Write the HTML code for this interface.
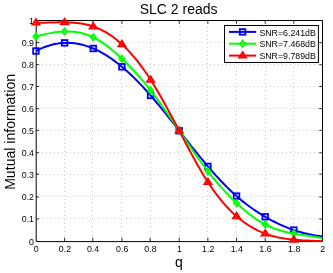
<!DOCTYPE html>
<html><head><meta charset="utf-8"><style>
html,body{margin:0;padding:0;background:#fff;}
body{width:333px;height:273px;overflow:hidden;font-family:"Liberation Sans",sans-serif;}
svg{display:block;will-change:transform;}
text{font-family:"Liberation Sans",sans-serif;fill:#000;}
</style></head><body>
<svg width="333" height="273" viewBox="0 0 333 273">
<rect x="0" y="0" width="333" height="273" fill="#fff"/>

<g fill="#000" opacity="0.2" shape-rendering="crispEdges">
<rect x="64" y="239" width="1" height="1"/>
<rect x="64" y="235" width="1" height="1"/>
<rect x="64" y="231" width="1" height="1"/>
<rect x="64" y="227" width="1" height="1"/>
<rect x="64" y="223" width="1" height="1"/>
<rect x="64" y="219" width="1" height="1"/>
<rect x="64" y="215" width="1" height="1"/>
<rect x="64" y="211" width="1" height="1"/>
<rect x="64" y="207" width="1" height="1"/>
<rect x="64" y="203" width="1" height="1"/>
<rect x="64" y="199" width="1" height="1"/>
<rect x="64" y="195" width="1" height="1"/>
<rect x="64" y="191" width="1" height="1"/>
<rect x="64" y="187" width="1" height="1"/>
<rect x="64" y="183" width="1" height="1"/>
<rect x="64" y="179" width="1" height="1"/>
<rect x="64" y="175" width="1" height="1"/>
<rect x="64" y="171" width="1" height="1"/>
<rect x="64" y="167" width="1" height="1"/>
<rect x="64" y="163" width="1" height="1"/>
<rect x="64" y="159" width="1" height="1"/>
<rect x="64" y="155" width="1" height="1"/>
<rect x="64" y="151" width="1" height="1"/>
<rect x="64" y="147" width="1" height="1"/>
<rect x="64" y="143" width="1" height="1"/>
<rect x="64" y="139" width="1" height="1"/>
<rect x="64" y="135" width="1" height="1"/>
<rect x="64" y="131" width="1" height="1"/>
<rect x="64" y="127" width="1" height="1"/>
<rect x="64" y="123" width="1" height="1"/>
<rect x="64" y="119" width="1" height="1"/>
<rect x="64" y="115" width="1" height="1"/>
<rect x="64" y="111" width="1" height="1"/>
<rect x="64" y="107" width="1" height="1"/>
<rect x="64" y="103" width="1" height="1"/>
<rect x="64" y="99" width="1" height="1"/>
<rect x="64" y="95" width="1" height="1"/>
<rect x="64" y="91" width="1" height="1"/>
<rect x="64" y="87" width="1" height="1"/>
<rect x="64" y="83" width="1" height="1"/>
<rect x="64" y="79" width="1" height="1"/>
<rect x="64" y="75" width="1" height="1"/>
<rect x="64" y="71" width="1" height="1"/>
<rect x="64" y="67" width="1" height="1"/>
<rect x="64" y="63" width="1" height="1"/>
<rect x="64" y="59" width="1" height="1"/>
<rect x="64" y="55" width="1" height="1"/>
<rect x="64" y="51" width="1" height="1"/>
<rect x="64" y="47" width="1" height="1"/>
<rect x="64" y="43" width="1" height="1"/>
<rect x="64" y="39" width="1" height="1"/>
<rect x="64" y="35" width="1" height="1"/>
<rect x="64" y="31" width="1" height="1"/>
<rect x="64" y="27" width="1" height="1"/>
<rect x="64" y="23" width="1" height="1"/>
<rect x="92" y="239" width="1" height="1"/>
<rect x="92" y="235" width="1" height="1"/>
<rect x="92" y="231" width="1" height="1"/>
<rect x="92" y="227" width="1" height="1"/>
<rect x="92" y="223" width="1" height="1"/>
<rect x="92" y="219" width="1" height="1"/>
<rect x="92" y="215" width="1" height="1"/>
<rect x="92" y="211" width="1" height="1"/>
<rect x="92" y="207" width="1" height="1"/>
<rect x="92" y="203" width="1" height="1"/>
<rect x="92" y="199" width="1" height="1"/>
<rect x="92" y="195" width="1" height="1"/>
<rect x="92" y="191" width="1" height="1"/>
<rect x="92" y="187" width="1" height="1"/>
<rect x="92" y="183" width="1" height="1"/>
<rect x="92" y="179" width="1" height="1"/>
<rect x="92" y="175" width="1" height="1"/>
<rect x="92" y="171" width="1" height="1"/>
<rect x="92" y="167" width="1" height="1"/>
<rect x="92" y="163" width="1" height="1"/>
<rect x="92" y="159" width="1" height="1"/>
<rect x="92" y="155" width="1" height="1"/>
<rect x="92" y="151" width="1" height="1"/>
<rect x="92" y="147" width="1" height="1"/>
<rect x="92" y="143" width="1" height="1"/>
<rect x="92" y="139" width="1" height="1"/>
<rect x="92" y="135" width="1" height="1"/>
<rect x="92" y="131" width="1" height="1"/>
<rect x="92" y="127" width="1" height="1"/>
<rect x="92" y="123" width="1" height="1"/>
<rect x="92" y="119" width="1" height="1"/>
<rect x="92" y="115" width="1" height="1"/>
<rect x="92" y="111" width="1" height="1"/>
<rect x="92" y="107" width="1" height="1"/>
<rect x="92" y="103" width="1" height="1"/>
<rect x="92" y="99" width="1" height="1"/>
<rect x="92" y="95" width="1" height="1"/>
<rect x="92" y="91" width="1" height="1"/>
<rect x="92" y="87" width="1" height="1"/>
<rect x="92" y="83" width="1" height="1"/>
<rect x="92" y="79" width="1" height="1"/>
<rect x="92" y="75" width="1" height="1"/>
<rect x="92" y="71" width="1" height="1"/>
<rect x="92" y="67" width="1" height="1"/>
<rect x="92" y="63" width="1" height="1"/>
<rect x="92" y="59" width="1" height="1"/>
<rect x="92" y="55" width="1" height="1"/>
<rect x="92" y="51" width="1" height="1"/>
<rect x="92" y="47" width="1" height="1"/>
<rect x="92" y="43" width="1" height="1"/>
<rect x="92" y="39" width="1" height="1"/>
<rect x="92" y="35" width="1" height="1"/>
<rect x="92" y="31" width="1" height="1"/>
<rect x="92" y="27" width="1" height="1"/>
<rect x="92" y="23" width="1" height="1"/>
<rect x="121" y="239" width="1" height="1"/>
<rect x="121" y="235" width="1" height="1"/>
<rect x="121" y="231" width="1" height="1"/>
<rect x="121" y="227" width="1" height="1"/>
<rect x="121" y="223" width="1" height="1"/>
<rect x="121" y="219" width="1" height="1"/>
<rect x="121" y="215" width="1" height="1"/>
<rect x="121" y="211" width="1" height="1"/>
<rect x="121" y="207" width="1" height="1"/>
<rect x="121" y="203" width="1" height="1"/>
<rect x="121" y="199" width="1" height="1"/>
<rect x="121" y="195" width="1" height="1"/>
<rect x="121" y="191" width="1" height="1"/>
<rect x="121" y="187" width="1" height="1"/>
<rect x="121" y="183" width="1" height="1"/>
<rect x="121" y="179" width="1" height="1"/>
<rect x="121" y="175" width="1" height="1"/>
<rect x="121" y="171" width="1" height="1"/>
<rect x="121" y="167" width="1" height="1"/>
<rect x="121" y="163" width="1" height="1"/>
<rect x="121" y="159" width="1" height="1"/>
<rect x="121" y="155" width="1" height="1"/>
<rect x="121" y="151" width="1" height="1"/>
<rect x="121" y="147" width="1" height="1"/>
<rect x="121" y="143" width="1" height="1"/>
<rect x="121" y="139" width="1" height="1"/>
<rect x="121" y="135" width="1" height="1"/>
<rect x="121" y="131" width="1" height="1"/>
<rect x="121" y="127" width="1" height="1"/>
<rect x="121" y="123" width="1" height="1"/>
<rect x="121" y="119" width="1" height="1"/>
<rect x="121" y="115" width="1" height="1"/>
<rect x="121" y="111" width="1" height="1"/>
<rect x="121" y="107" width="1" height="1"/>
<rect x="121" y="103" width="1" height="1"/>
<rect x="121" y="99" width="1" height="1"/>
<rect x="121" y="95" width="1" height="1"/>
<rect x="121" y="91" width="1" height="1"/>
<rect x="121" y="87" width="1" height="1"/>
<rect x="121" y="83" width="1" height="1"/>
<rect x="121" y="79" width="1" height="1"/>
<rect x="121" y="75" width="1" height="1"/>
<rect x="121" y="71" width="1" height="1"/>
<rect x="121" y="67" width="1" height="1"/>
<rect x="121" y="63" width="1" height="1"/>
<rect x="121" y="59" width="1" height="1"/>
<rect x="121" y="55" width="1" height="1"/>
<rect x="121" y="51" width="1" height="1"/>
<rect x="121" y="47" width="1" height="1"/>
<rect x="121" y="43" width="1" height="1"/>
<rect x="121" y="39" width="1" height="1"/>
<rect x="121" y="35" width="1" height="1"/>
<rect x="121" y="31" width="1" height="1"/>
<rect x="121" y="27" width="1" height="1"/>
<rect x="121" y="23" width="1" height="1"/>
<rect x="150" y="239" width="1" height="1"/>
<rect x="150" y="235" width="1" height="1"/>
<rect x="150" y="231" width="1" height="1"/>
<rect x="150" y="227" width="1" height="1"/>
<rect x="150" y="223" width="1" height="1"/>
<rect x="150" y="219" width="1" height="1"/>
<rect x="150" y="215" width="1" height="1"/>
<rect x="150" y="211" width="1" height="1"/>
<rect x="150" y="207" width="1" height="1"/>
<rect x="150" y="203" width="1" height="1"/>
<rect x="150" y="199" width="1" height="1"/>
<rect x="150" y="195" width="1" height="1"/>
<rect x="150" y="191" width="1" height="1"/>
<rect x="150" y="187" width="1" height="1"/>
<rect x="150" y="183" width="1" height="1"/>
<rect x="150" y="179" width="1" height="1"/>
<rect x="150" y="175" width="1" height="1"/>
<rect x="150" y="171" width="1" height="1"/>
<rect x="150" y="167" width="1" height="1"/>
<rect x="150" y="163" width="1" height="1"/>
<rect x="150" y="159" width="1" height="1"/>
<rect x="150" y="155" width="1" height="1"/>
<rect x="150" y="151" width="1" height="1"/>
<rect x="150" y="147" width="1" height="1"/>
<rect x="150" y="143" width="1" height="1"/>
<rect x="150" y="139" width="1" height="1"/>
<rect x="150" y="135" width="1" height="1"/>
<rect x="150" y="131" width="1" height="1"/>
<rect x="150" y="127" width="1" height="1"/>
<rect x="150" y="123" width="1" height="1"/>
<rect x="150" y="119" width="1" height="1"/>
<rect x="150" y="115" width="1" height="1"/>
<rect x="150" y="111" width="1" height="1"/>
<rect x="150" y="107" width="1" height="1"/>
<rect x="150" y="103" width="1" height="1"/>
<rect x="150" y="99" width="1" height="1"/>
<rect x="150" y="95" width="1" height="1"/>
<rect x="150" y="91" width="1" height="1"/>
<rect x="150" y="87" width="1" height="1"/>
<rect x="150" y="83" width="1" height="1"/>
<rect x="150" y="79" width="1" height="1"/>
<rect x="150" y="75" width="1" height="1"/>
<rect x="150" y="71" width="1" height="1"/>
<rect x="150" y="67" width="1" height="1"/>
<rect x="150" y="63" width="1" height="1"/>
<rect x="150" y="59" width="1" height="1"/>
<rect x="150" y="55" width="1" height="1"/>
<rect x="150" y="51" width="1" height="1"/>
<rect x="150" y="47" width="1" height="1"/>
<rect x="150" y="43" width="1" height="1"/>
<rect x="150" y="39" width="1" height="1"/>
<rect x="150" y="35" width="1" height="1"/>
<rect x="150" y="31" width="1" height="1"/>
<rect x="150" y="27" width="1" height="1"/>
<rect x="150" y="23" width="1" height="1"/>
<rect x="179" y="239" width="1" height="1"/>
<rect x="179" y="235" width="1" height="1"/>
<rect x="179" y="231" width="1" height="1"/>
<rect x="179" y="227" width="1" height="1"/>
<rect x="179" y="223" width="1" height="1"/>
<rect x="179" y="219" width="1" height="1"/>
<rect x="179" y="215" width="1" height="1"/>
<rect x="179" y="211" width="1" height="1"/>
<rect x="179" y="207" width="1" height="1"/>
<rect x="179" y="203" width="1" height="1"/>
<rect x="179" y="199" width="1" height="1"/>
<rect x="179" y="195" width="1" height="1"/>
<rect x="179" y="191" width="1" height="1"/>
<rect x="179" y="187" width="1" height="1"/>
<rect x="179" y="183" width="1" height="1"/>
<rect x="179" y="179" width="1" height="1"/>
<rect x="179" y="175" width="1" height="1"/>
<rect x="179" y="171" width="1" height="1"/>
<rect x="179" y="167" width="1" height="1"/>
<rect x="179" y="163" width="1" height="1"/>
<rect x="179" y="159" width="1" height="1"/>
<rect x="179" y="155" width="1" height="1"/>
<rect x="179" y="151" width="1" height="1"/>
<rect x="179" y="147" width="1" height="1"/>
<rect x="179" y="143" width="1" height="1"/>
<rect x="179" y="139" width="1" height="1"/>
<rect x="179" y="135" width="1" height="1"/>
<rect x="179" y="131" width="1" height="1"/>
<rect x="179" y="127" width="1" height="1"/>
<rect x="179" y="123" width="1" height="1"/>
<rect x="179" y="119" width="1" height="1"/>
<rect x="179" y="115" width="1" height="1"/>
<rect x="179" y="111" width="1" height="1"/>
<rect x="179" y="107" width="1" height="1"/>
<rect x="179" y="103" width="1" height="1"/>
<rect x="179" y="99" width="1" height="1"/>
<rect x="179" y="95" width="1" height="1"/>
<rect x="179" y="91" width="1" height="1"/>
<rect x="179" y="87" width="1" height="1"/>
<rect x="179" y="83" width="1" height="1"/>
<rect x="179" y="79" width="1" height="1"/>
<rect x="179" y="75" width="1" height="1"/>
<rect x="179" y="71" width="1" height="1"/>
<rect x="179" y="67" width="1" height="1"/>
<rect x="179" y="63" width="1" height="1"/>
<rect x="179" y="59" width="1" height="1"/>
<rect x="179" y="55" width="1" height="1"/>
<rect x="179" y="51" width="1" height="1"/>
<rect x="179" y="47" width="1" height="1"/>
<rect x="179" y="43" width="1" height="1"/>
<rect x="179" y="39" width="1" height="1"/>
<rect x="179" y="35" width="1" height="1"/>
<rect x="179" y="31" width="1" height="1"/>
<rect x="179" y="27" width="1" height="1"/>
<rect x="179" y="23" width="1" height="1"/>
<rect x="207" y="239" width="1" height="1"/>
<rect x="207" y="235" width="1" height="1"/>
<rect x="207" y="231" width="1" height="1"/>
<rect x="207" y="227" width="1" height="1"/>
<rect x="207" y="223" width="1" height="1"/>
<rect x="207" y="219" width="1" height="1"/>
<rect x="207" y="215" width="1" height="1"/>
<rect x="207" y="211" width="1" height="1"/>
<rect x="207" y="207" width="1" height="1"/>
<rect x="207" y="203" width="1" height="1"/>
<rect x="207" y="199" width="1" height="1"/>
<rect x="207" y="195" width="1" height="1"/>
<rect x="207" y="191" width="1" height="1"/>
<rect x="207" y="187" width="1" height="1"/>
<rect x="207" y="183" width="1" height="1"/>
<rect x="207" y="179" width="1" height="1"/>
<rect x="207" y="175" width="1" height="1"/>
<rect x="207" y="171" width="1" height="1"/>
<rect x="207" y="167" width="1" height="1"/>
<rect x="207" y="163" width="1" height="1"/>
<rect x="207" y="159" width="1" height="1"/>
<rect x="207" y="155" width="1" height="1"/>
<rect x="207" y="151" width="1" height="1"/>
<rect x="207" y="147" width="1" height="1"/>
<rect x="207" y="143" width="1" height="1"/>
<rect x="207" y="139" width="1" height="1"/>
<rect x="207" y="135" width="1" height="1"/>
<rect x="207" y="131" width="1" height="1"/>
<rect x="207" y="127" width="1" height="1"/>
<rect x="207" y="123" width="1" height="1"/>
<rect x="207" y="119" width="1" height="1"/>
<rect x="207" y="115" width="1" height="1"/>
<rect x="207" y="111" width="1" height="1"/>
<rect x="207" y="107" width="1" height="1"/>
<rect x="207" y="103" width="1" height="1"/>
<rect x="207" y="99" width="1" height="1"/>
<rect x="207" y="95" width="1" height="1"/>
<rect x="207" y="91" width="1" height="1"/>
<rect x="207" y="87" width="1" height="1"/>
<rect x="207" y="83" width="1" height="1"/>
<rect x="207" y="79" width="1" height="1"/>
<rect x="207" y="75" width="1" height="1"/>
<rect x="207" y="71" width="1" height="1"/>
<rect x="207" y="67" width="1" height="1"/>
<rect x="207" y="63" width="1" height="1"/>
<rect x="207" y="59" width="1" height="1"/>
<rect x="207" y="55" width="1" height="1"/>
<rect x="207" y="51" width="1" height="1"/>
<rect x="207" y="47" width="1" height="1"/>
<rect x="207" y="43" width="1" height="1"/>
<rect x="207" y="39" width="1" height="1"/>
<rect x="207" y="35" width="1" height="1"/>
<rect x="207" y="31" width="1" height="1"/>
<rect x="207" y="27" width="1" height="1"/>
<rect x="207" y="23" width="1" height="1"/>
<rect x="236" y="239" width="1" height="1"/>
<rect x="236" y="235" width="1" height="1"/>
<rect x="236" y="231" width="1" height="1"/>
<rect x="236" y="227" width="1" height="1"/>
<rect x="236" y="223" width="1" height="1"/>
<rect x="236" y="219" width="1" height="1"/>
<rect x="236" y="215" width="1" height="1"/>
<rect x="236" y="211" width="1" height="1"/>
<rect x="236" y="207" width="1" height="1"/>
<rect x="236" y="203" width="1" height="1"/>
<rect x="236" y="199" width="1" height="1"/>
<rect x="236" y="195" width="1" height="1"/>
<rect x="236" y="191" width="1" height="1"/>
<rect x="236" y="187" width="1" height="1"/>
<rect x="236" y="183" width="1" height="1"/>
<rect x="236" y="179" width="1" height="1"/>
<rect x="236" y="175" width="1" height="1"/>
<rect x="236" y="171" width="1" height="1"/>
<rect x="236" y="167" width="1" height="1"/>
<rect x="236" y="163" width="1" height="1"/>
<rect x="236" y="159" width="1" height="1"/>
<rect x="236" y="155" width="1" height="1"/>
<rect x="236" y="151" width="1" height="1"/>
<rect x="236" y="147" width="1" height="1"/>
<rect x="236" y="143" width="1" height="1"/>
<rect x="236" y="139" width="1" height="1"/>
<rect x="236" y="135" width="1" height="1"/>
<rect x="236" y="131" width="1" height="1"/>
<rect x="236" y="127" width="1" height="1"/>
<rect x="236" y="123" width="1" height="1"/>
<rect x="236" y="119" width="1" height="1"/>
<rect x="236" y="115" width="1" height="1"/>
<rect x="236" y="111" width="1" height="1"/>
<rect x="236" y="107" width="1" height="1"/>
<rect x="236" y="103" width="1" height="1"/>
<rect x="236" y="99" width="1" height="1"/>
<rect x="236" y="95" width="1" height="1"/>
<rect x="236" y="91" width="1" height="1"/>
<rect x="236" y="87" width="1" height="1"/>
<rect x="236" y="83" width="1" height="1"/>
<rect x="236" y="79" width="1" height="1"/>
<rect x="236" y="75" width="1" height="1"/>
<rect x="236" y="71" width="1" height="1"/>
<rect x="236" y="67" width="1" height="1"/>
<rect x="236" y="63" width="1" height="1"/>
<rect x="236" y="59" width="1" height="1"/>
<rect x="236" y="55" width="1" height="1"/>
<rect x="236" y="51" width="1" height="1"/>
<rect x="236" y="47" width="1" height="1"/>
<rect x="236" y="43" width="1" height="1"/>
<rect x="236" y="39" width="1" height="1"/>
<rect x="236" y="35" width="1" height="1"/>
<rect x="236" y="31" width="1" height="1"/>
<rect x="236" y="27" width="1" height="1"/>
<rect x="236" y="23" width="1" height="1"/>
<rect x="265" y="239" width="1" height="1"/>
<rect x="265" y="235" width="1" height="1"/>
<rect x="265" y="231" width="1" height="1"/>
<rect x="265" y="227" width="1" height="1"/>
<rect x="265" y="223" width="1" height="1"/>
<rect x="265" y="219" width="1" height="1"/>
<rect x="265" y="215" width="1" height="1"/>
<rect x="265" y="211" width="1" height="1"/>
<rect x="265" y="207" width="1" height="1"/>
<rect x="265" y="203" width="1" height="1"/>
<rect x="265" y="199" width="1" height="1"/>
<rect x="265" y="195" width="1" height="1"/>
<rect x="265" y="191" width="1" height="1"/>
<rect x="265" y="187" width="1" height="1"/>
<rect x="265" y="183" width="1" height="1"/>
<rect x="265" y="179" width="1" height="1"/>
<rect x="265" y="175" width="1" height="1"/>
<rect x="265" y="171" width="1" height="1"/>
<rect x="265" y="167" width="1" height="1"/>
<rect x="265" y="163" width="1" height="1"/>
<rect x="265" y="159" width="1" height="1"/>
<rect x="265" y="155" width="1" height="1"/>
<rect x="265" y="151" width="1" height="1"/>
<rect x="265" y="147" width="1" height="1"/>
<rect x="265" y="143" width="1" height="1"/>
<rect x="265" y="139" width="1" height="1"/>
<rect x="265" y="135" width="1" height="1"/>
<rect x="265" y="131" width="1" height="1"/>
<rect x="265" y="127" width="1" height="1"/>
<rect x="265" y="123" width="1" height="1"/>
<rect x="265" y="119" width="1" height="1"/>
<rect x="265" y="115" width="1" height="1"/>
<rect x="265" y="111" width="1" height="1"/>
<rect x="265" y="107" width="1" height="1"/>
<rect x="265" y="103" width="1" height="1"/>
<rect x="265" y="99" width="1" height="1"/>
<rect x="265" y="95" width="1" height="1"/>
<rect x="265" y="91" width="1" height="1"/>
<rect x="265" y="87" width="1" height="1"/>
<rect x="265" y="83" width="1" height="1"/>
<rect x="265" y="79" width="1" height="1"/>
<rect x="265" y="75" width="1" height="1"/>
<rect x="265" y="71" width="1" height="1"/>
<rect x="265" y="67" width="1" height="1"/>
<rect x="265" y="63" width="1" height="1"/>
<rect x="265" y="59" width="1" height="1"/>
<rect x="265" y="55" width="1" height="1"/>
<rect x="265" y="51" width="1" height="1"/>
<rect x="265" y="47" width="1" height="1"/>
<rect x="265" y="43" width="1" height="1"/>
<rect x="265" y="39" width="1" height="1"/>
<rect x="265" y="35" width="1" height="1"/>
<rect x="265" y="31" width="1" height="1"/>
<rect x="265" y="27" width="1" height="1"/>
<rect x="265" y="23" width="1" height="1"/>
<rect x="293" y="239" width="1" height="1"/>
<rect x="293" y="235" width="1" height="1"/>
<rect x="293" y="231" width="1" height="1"/>
<rect x="293" y="227" width="1" height="1"/>
<rect x="293" y="223" width="1" height="1"/>
<rect x="293" y="219" width="1" height="1"/>
<rect x="293" y="215" width="1" height="1"/>
<rect x="293" y="211" width="1" height="1"/>
<rect x="293" y="207" width="1" height="1"/>
<rect x="293" y="203" width="1" height="1"/>
<rect x="293" y="199" width="1" height="1"/>
<rect x="293" y="195" width="1" height="1"/>
<rect x="293" y="191" width="1" height="1"/>
<rect x="293" y="187" width="1" height="1"/>
<rect x="293" y="183" width="1" height="1"/>
<rect x="293" y="179" width="1" height="1"/>
<rect x="293" y="175" width="1" height="1"/>
<rect x="293" y="171" width="1" height="1"/>
<rect x="293" y="167" width="1" height="1"/>
<rect x="293" y="163" width="1" height="1"/>
<rect x="293" y="159" width="1" height="1"/>
<rect x="293" y="155" width="1" height="1"/>
<rect x="293" y="151" width="1" height="1"/>
<rect x="293" y="147" width="1" height="1"/>
<rect x="293" y="143" width="1" height="1"/>
<rect x="293" y="139" width="1" height="1"/>
<rect x="293" y="135" width="1" height="1"/>
<rect x="293" y="131" width="1" height="1"/>
<rect x="293" y="127" width="1" height="1"/>
<rect x="293" y="123" width="1" height="1"/>
<rect x="293" y="119" width="1" height="1"/>
<rect x="293" y="115" width="1" height="1"/>
<rect x="293" y="111" width="1" height="1"/>
<rect x="293" y="107" width="1" height="1"/>
<rect x="293" y="103" width="1" height="1"/>
<rect x="293" y="99" width="1" height="1"/>
<rect x="293" y="95" width="1" height="1"/>
<rect x="293" y="91" width="1" height="1"/>
<rect x="293" y="87" width="1" height="1"/>
<rect x="293" y="83" width="1" height="1"/>
<rect x="293" y="79" width="1" height="1"/>
<rect x="293" y="75" width="1" height="1"/>
<rect x="293" y="71" width="1" height="1"/>
<rect x="293" y="67" width="1" height="1"/>
<rect x="293" y="63" width="1" height="1"/>
<rect x="293" y="59" width="1" height="1"/>
<rect x="293" y="55" width="1" height="1"/>
<rect x="293" y="51" width="1" height="1"/>
<rect x="293" y="47" width="1" height="1"/>
<rect x="293" y="43" width="1" height="1"/>
<rect x="293" y="39" width="1" height="1"/>
<rect x="293" y="35" width="1" height="1"/>
<rect x="293" y="31" width="1" height="1"/>
<rect x="293" y="27" width="1" height="1"/>
<rect x="293" y="23" width="1" height="1"/>
<rect x="38" y="218" width="1" height="1"/>
<rect x="42" y="218" width="1" height="1"/>
<rect x="46" y="218" width="1" height="1"/>
<rect x="50" y="218" width="1" height="1"/>
<rect x="54" y="218" width="1" height="1"/>
<rect x="58" y="218" width="1" height="1"/>
<rect x="62" y="218" width="1" height="1"/>
<rect x="66" y="218" width="1" height="1"/>
<rect x="70" y="218" width="1" height="1"/>
<rect x="74" y="218" width="1" height="1"/>
<rect x="78" y="218" width="1" height="1"/>
<rect x="82" y="218" width="1" height="1"/>
<rect x="86" y="218" width="1" height="1"/>
<rect x="90" y="218" width="1" height="1"/>
<rect x="94" y="218" width="1" height="1"/>
<rect x="98" y="218" width="1" height="1"/>
<rect x="102" y="218" width="1" height="1"/>
<rect x="106" y="218" width="1" height="1"/>
<rect x="110" y="218" width="1" height="1"/>
<rect x="114" y="218" width="1" height="1"/>
<rect x="118" y="218" width="1" height="1"/>
<rect x="122" y="218" width="1" height="1"/>
<rect x="126" y="218" width="1" height="1"/>
<rect x="130" y="218" width="1" height="1"/>
<rect x="134" y="218" width="1" height="1"/>
<rect x="138" y="218" width="1" height="1"/>
<rect x="142" y="218" width="1" height="1"/>
<rect x="146" y="218" width="1" height="1"/>
<rect x="150" y="218" width="1" height="1"/>
<rect x="154" y="218" width="1" height="1"/>
<rect x="158" y="218" width="1" height="1"/>
<rect x="162" y="218" width="1" height="1"/>
<rect x="166" y="218" width="1" height="1"/>
<rect x="170" y="218" width="1" height="1"/>
<rect x="174" y="218" width="1" height="1"/>
<rect x="178" y="218" width="1" height="1"/>
<rect x="182" y="218" width="1" height="1"/>
<rect x="186" y="218" width="1" height="1"/>
<rect x="190" y="218" width="1" height="1"/>
<rect x="194" y="218" width="1" height="1"/>
<rect x="198" y="218" width="1" height="1"/>
<rect x="202" y="218" width="1" height="1"/>
<rect x="206" y="218" width="1" height="1"/>
<rect x="210" y="218" width="1" height="1"/>
<rect x="214" y="218" width="1" height="1"/>
<rect x="218" y="218" width="1" height="1"/>
<rect x="222" y="218" width="1" height="1"/>
<rect x="226" y="218" width="1" height="1"/>
<rect x="230" y="218" width="1" height="1"/>
<rect x="234" y="218" width="1" height="1"/>
<rect x="238" y="218" width="1" height="1"/>
<rect x="242" y="218" width="1" height="1"/>
<rect x="246" y="218" width="1" height="1"/>
<rect x="250" y="218" width="1" height="1"/>
<rect x="254" y="218" width="1" height="1"/>
<rect x="258" y="218" width="1" height="1"/>
<rect x="262" y="218" width="1" height="1"/>
<rect x="266" y="218" width="1" height="1"/>
<rect x="270" y="218" width="1" height="1"/>
<rect x="274" y="218" width="1" height="1"/>
<rect x="278" y="218" width="1" height="1"/>
<rect x="282" y="218" width="1" height="1"/>
<rect x="286" y="218" width="1" height="1"/>
<rect x="290" y="218" width="1" height="1"/>
<rect x="294" y="218" width="1" height="1"/>
<rect x="298" y="218" width="1" height="1"/>
<rect x="302" y="218" width="1" height="1"/>
<rect x="306" y="218" width="1" height="1"/>
<rect x="310" y="218" width="1" height="1"/>
<rect x="314" y="218" width="1" height="1"/>
<rect x="318" y="218" width="1" height="1"/>
<rect x="38" y="196" width="1" height="1"/>
<rect x="42" y="196" width="1" height="1"/>
<rect x="46" y="196" width="1" height="1"/>
<rect x="50" y="196" width="1" height="1"/>
<rect x="54" y="196" width="1" height="1"/>
<rect x="58" y="196" width="1" height="1"/>
<rect x="62" y="196" width="1" height="1"/>
<rect x="66" y="196" width="1" height="1"/>
<rect x="70" y="196" width="1" height="1"/>
<rect x="74" y="196" width="1" height="1"/>
<rect x="78" y="196" width="1" height="1"/>
<rect x="82" y="196" width="1" height="1"/>
<rect x="86" y="196" width="1" height="1"/>
<rect x="90" y="196" width="1" height="1"/>
<rect x="94" y="196" width="1" height="1"/>
<rect x="98" y="196" width="1" height="1"/>
<rect x="102" y="196" width="1" height="1"/>
<rect x="106" y="196" width="1" height="1"/>
<rect x="110" y="196" width="1" height="1"/>
<rect x="114" y="196" width="1" height="1"/>
<rect x="118" y="196" width="1" height="1"/>
<rect x="122" y="196" width="1" height="1"/>
<rect x="126" y="196" width="1" height="1"/>
<rect x="130" y="196" width="1" height="1"/>
<rect x="134" y="196" width="1" height="1"/>
<rect x="138" y="196" width="1" height="1"/>
<rect x="142" y="196" width="1" height="1"/>
<rect x="146" y="196" width="1" height="1"/>
<rect x="150" y="196" width="1" height="1"/>
<rect x="154" y="196" width="1" height="1"/>
<rect x="158" y="196" width="1" height="1"/>
<rect x="162" y="196" width="1" height="1"/>
<rect x="166" y="196" width="1" height="1"/>
<rect x="170" y="196" width="1" height="1"/>
<rect x="174" y="196" width="1" height="1"/>
<rect x="178" y="196" width="1" height="1"/>
<rect x="182" y="196" width="1" height="1"/>
<rect x="186" y="196" width="1" height="1"/>
<rect x="190" y="196" width="1" height="1"/>
<rect x="194" y="196" width="1" height="1"/>
<rect x="198" y="196" width="1" height="1"/>
<rect x="202" y="196" width="1" height="1"/>
<rect x="206" y="196" width="1" height="1"/>
<rect x="210" y="196" width="1" height="1"/>
<rect x="214" y="196" width="1" height="1"/>
<rect x="218" y="196" width="1" height="1"/>
<rect x="222" y="196" width="1" height="1"/>
<rect x="226" y="196" width="1" height="1"/>
<rect x="230" y="196" width="1" height="1"/>
<rect x="234" y="196" width="1" height="1"/>
<rect x="238" y="196" width="1" height="1"/>
<rect x="242" y="196" width="1" height="1"/>
<rect x="246" y="196" width="1" height="1"/>
<rect x="250" y="196" width="1" height="1"/>
<rect x="254" y="196" width="1" height="1"/>
<rect x="258" y="196" width="1" height="1"/>
<rect x="262" y="196" width="1" height="1"/>
<rect x="266" y="196" width="1" height="1"/>
<rect x="270" y="196" width="1" height="1"/>
<rect x="274" y="196" width="1" height="1"/>
<rect x="278" y="196" width="1" height="1"/>
<rect x="282" y="196" width="1" height="1"/>
<rect x="286" y="196" width="1" height="1"/>
<rect x="290" y="196" width="1" height="1"/>
<rect x="294" y="196" width="1" height="1"/>
<rect x="298" y="196" width="1" height="1"/>
<rect x="302" y="196" width="1" height="1"/>
<rect x="306" y="196" width="1" height="1"/>
<rect x="310" y="196" width="1" height="1"/>
<rect x="314" y="196" width="1" height="1"/>
<rect x="318" y="196" width="1" height="1"/>
<rect x="38" y="174" width="1" height="1"/>
<rect x="42" y="174" width="1" height="1"/>
<rect x="46" y="174" width="1" height="1"/>
<rect x="50" y="174" width="1" height="1"/>
<rect x="54" y="174" width="1" height="1"/>
<rect x="58" y="174" width="1" height="1"/>
<rect x="62" y="174" width="1" height="1"/>
<rect x="66" y="174" width="1" height="1"/>
<rect x="70" y="174" width="1" height="1"/>
<rect x="74" y="174" width="1" height="1"/>
<rect x="78" y="174" width="1" height="1"/>
<rect x="82" y="174" width="1" height="1"/>
<rect x="86" y="174" width="1" height="1"/>
<rect x="90" y="174" width="1" height="1"/>
<rect x="94" y="174" width="1" height="1"/>
<rect x="98" y="174" width="1" height="1"/>
<rect x="102" y="174" width="1" height="1"/>
<rect x="106" y="174" width="1" height="1"/>
<rect x="110" y="174" width="1" height="1"/>
<rect x="114" y="174" width="1" height="1"/>
<rect x="118" y="174" width="1" height="1"/>
<rect x="122" y="174" width="1" height="1"/>
<rect x="126" y="174" width="1" height="1"/>
<rect x="130" y="174" width="1" height="1"/>
<rect x="134" y="174" width="1" height="1"/>
<rect x="138" y="174" width="1" height="1"/>
<rect x="142" y="174" width="1" height="1"/>
<rect x="146" y="174" width="1" height="1"/>
<rect x="150" y="174" width="1" height="1"/>
<rect x="154" y="174" width="1" height="1"/>
<rect x="158" y="174" width="1" height="1"/>
<rect x="162" y="174" width="1" height="1"/>
<rect x="166" y="174" width="1" height="1"/>
<rect x="170" y="174" width="1" height="1"/>
<rect x="174" y="174" width="1" height="1"/>
<rect x="178" y="174" width="1" height="1"/>
<rect x="182" y="174" width="1" height="1"/>
<rect x="186" y="174" width="1" height="1"/>
<rect x="190" y="174" width="1" height="1"/>
<rect x="194" y="174" width="1" height="1"/>
<rect x="198" y="174" width="1" height="1"/>
<rect x="202" y="174" width="1" height="1"/>
<rect x="206" y="174" width="1" height="1"/>
<rect x="210" y="174" width="1" height="1"/>
<rect x="214" y="174" width="1" height="1"/>
<rect x="218" y="174" width="1" height="1"/>
<rect x="222" y="174" width="1" height="1"/>
<rect x="226" y="174" width="1" height="1"/>
<rect x="230" y="174" width="1" height="1"/>
<rect x="234" y="174" width="1" height="1"/>
<rect x="238" y="174" width="1" height="1"/>
<rect x="242" y="174" width="1" height="1"/>
<rect x="246" y="174" width="1" height="1"/>
<rect x="250" y="174" width="1" height="1"/>
<rect x="254" y="174" width="1" height="1"/>
<rect x="258" y="174" width="1" height="1"/>
<rect x="262" y="174" width="1" height="1"/>
<rect x="266" y="174" width="1" height="1"/>
<rect x="270" y="174" width="1" height="1"/>
<rect x="274" y="174" width="1" height="1"/>
<rect x="278" y="174" width="1" height="1"/>
<rect x="282" y="174" width="1" height="1"/>
<rect x="286" y="174" width="1" height="1"/>
<rect x="290" y="174" width="1" height="1"/>
<rect x="294" y="174" width="1" height="1"/>
<rect x="298" y="174" width="1" height="1"/>
<rect x="302" y="174" width="1" height="1"/>
<rect x="306" y="174" width="1" height="1"/>
<rect x="310" y="174" width="1" height="1"/>
<rect x="314" y="174" width="1" height="1"/>
<rect x="318" y="174" width="1" height="1"/>
<rect x="38" y="152" width="1" height="1"/>
<rect x="42" y="152" width="1" height="1"/>
<rect x="46" y="152" width="1" height="1"/>
<rect x="50" y="152" width="1" height="1"/>
<rect x="54" y="152" width="1" height="1"/>
<rect x="58" y="152" width="1" height="1"/>
<rect x="62" y="152" width="1" height="1"/>
<rect x="66" y="152" width="1" height="1"/>
<rect x="70" y="152" width="1" height="1"/>
<rect x="74" y="152" width="1" height="1"/>
<rect x="78" y="152" width="1" height="1"/>
<rect x="82" y="152" width="1" height="1"/>
<rect x="86" y="152" width="1" height="1"/>
<rect x="90" y="152" width="1" height="1"/>
<rect x="94" y="152" width="1" height="1"/>
<rect x="98" y="152" width="1" height="1"/>
<rect x="102" y="152" width="1" height="1"/>
<rect x="106" y="152" width="1" height="1"/>
<rect x="110" y="152" width="1" height="1"/>
<rect x="114" y="152" width="1" height="1"/>
<rect x="118" y="152" width="1" height="1"/>
<rect x="122" y="152" width="1" height="1"/>
<rect x="126" y="152" width="1" height="1"/>
<rect x="130" y="152" width="1" height="1"/>
<rect x="134" y="152" width="1" height="1"/>
<rect x="138" y="152" width="1" height="1"/>
<rect x="142" y="152" width="1" height="1"/>
<rect x="146" y="152" width="1" height="1"/>
<rect x="150" y="152" width="1" height="1"/>
<rect x="154" y="152" width="1" height="1"/>
<rect x="158" y="152" width="1" height="1"/>
<rect x="162" y="152" width="1" height="1"/>
<rect x="166" y="152" width="1" height="1"/>
<rect x="170" y="152" width="1" height="1"/>
<rect x="174" y="152" width="1" height="1"/>
<rect x="178" y="152" width="1" height="1"/>
<rect x="182" y="152" width="1" height="1"/>
<rect x="186" y="152" width="1" height="1"/>
<rect x="190" y="152" width="1" height="1"/>
<rect x="194" y="152" width="1" height="1"/>
<rect x="198" y="152" width="1" height="1"/>
<rect x="202" y="152" width="1" height="1"/>
<rect x="206" y="152" width="1" height="1"/>
<rect x="210" y="152" width="1" height="1"/>
<rect x="214" y="152" width="1" height="1"/>
<rect x="218" y="152" width="1" height="1"/>
<rect x="222" y="152" width="1" height="1"/>
<rect x="226" y="152" width="1" height="1"/>
<rect x="230" y="152" width="1" height="1"/>
<rect x="234" y="152" width="1" height="1"/>
<rect x="238" y="152" width="1" height="1"/>
<rect x="242" y="152" width="1" height="1"/>
<rect x="246" y="152" width="1" height="1"/>
<rect x="250" y="152" width="1" height="1"/>
<rect x="254" y="152" width="1" height="1"/>
<rect x="258" y="152" width="1" height="1"/>
<rect x="262" y="152" width="1" height="1"/>
<rect x="266" y="152" width="1" height="1"/>
<rect x="270" y="152" width="1" height="1"/>
<rect x="274" y="152" width="1" height="1"/>
<rect x="278" y="152" width="1" height="1"/>
<rect x="282" y="152" width="1" height="1"/>
<rect x="286" y="152" width="1" height="1"/>
<rect x="290" y="152" width="1" height="1"/>
<rect x="294" y="152" width="1" height="1"/>
<rect x="298" y="152" width="1" height="1"/>
<rect x="302" y="152" width="1" height="1"/>
<rect x="306" y="152" width="1" height="1"/>
<rect x="310" y="152" width="1" height="1"/>
<rect x="314" y="152" width="1" height="1"/>
<rect x="318" y="152" width="1" height="1"/>
<rect x="38" y="130" width="1" height="1"/>
<rect x="42" y="130" width="1" height="1"/>
<rect x="46" y="130" width="1" height="1"/>
<rect x="50" y="130" width="1" height="1"/>
<rect x="54" y="130" width="1" height="1"/>
<rect x="58" y="130" width="1" height="1"/>
<rect x="62" y="130" width="1" height="1"/>
<rect x="66" y="130" width="1" height="1"/>
<rect x="70" y="130" width="1" height="1"/>
<rect x="74" y="130" width="1" height="1"/>
<rect x="78" y="130" width="1" height="1"/>
<rect x="82" y="130" width="1" height="1"/>
<rect x="86" y="130" width="1" height="1"/>
<rect x="90" y="130" width="1" height="1"/>
<rect x="94" y="130" width="1" height="1"/>
<rect x="98" y="130" width="1" height="1"/>
<rect x="102" y="130" width="1" height="1"/>
<rect x="106" y="130" width="1" height="1"/>
<rect x="110" y="130" width="1" height="1"/>
<rect x="114" y="130" width="1" height="1"/>
<rect x="118" y="130" width="1" height="1"/>
<rect x="122" y="130" width="1" height="1"/>
<rect x="126" y="130" width="1" height="1"/>
<rect x="130" y="130" width="1" height="1"/>
<rect x="134" y="130" width="1" height="1"/>
<rect x="138" y="130" width="1" height="1"/>
<rect x="142" y="130" width="1" height="1"/>
<rect x="146" y="130" width="1" height="1"/>
<rect x="150" y="130" width="1" height="1"/>
<rect x="154" y="130" width="1" height="1"/>
<rect x="158" y="130" width="1" height="1"/>
<rect x="162" y="130" width="1" height="1"/>
<rect x="166" y="130" width="1" height="1"/>
<rect x="170" y="130" width="1" height="1"/>
<rect x="174" y="130" width="1" height="1"/>
<rect x="178" y="130" width="1" height="1"/>
<rect x="182" y="130" width="1" height="1"/>
<rect x="186" y="130" width="1" height="1"/>
<rect x="190" y="130" width="1" height="1"/>
<rect x="194" y="130" width="1" height="1"/>
<rect x="198" y="130" width="1" height="1"/>
<rect x="202" y="130" width="1" height="1"/>
<rect x="206" y="130" width="1" height="1"/>
<rect x="210" y="130" width="1" height="1"/>
<rect x="214" y="130" width="1" height="1"/>
<rect x="218" y="130" width="1" height="1"/>
<rect x="222" y="130" width="1" height="1"/>
<rect x="226" y="130" width="1" height="1"/>
<rect x="230" y="130" width="1" height="1"/>
<rect x="234" y="130" width="1" height="1"/>
<rect x="238" y="130" width="1" height="1"/>
<rect x="242" y="130" width="1" height="1"/>
<rect x="246" y="130" width="1" height="1"/>
<rect x="250" y="130" width="1" height="1"/>
<rect x="254" y="130" width="1" height="1"/>
<rect x="258" y="130" width="1" height="1"/>
<rect x="262" y="130" width="1" height="1"/>
<rect x="266" y="130" width="1" height="1"/>
<rect x="270" y="130" width="1" height="1"/>
<rect x="274" y="130" width="1" height="1"/>
<rect x="278" y="130" width="1" height="1"/>
<rect x="282" y="130" width="1" height="1"/>
<rect x="286" y="130" width="1" height="1"/>
<rect x="290" y="130" width="1" height="1"/>
<rect x="294" y="130" width="1" height="1"/>
<rect x="298" y="130" width="1" height="1"/>
<rect x="302" y="130" width="1" height="1"/>
<rect x="306" y="130" width="1" height="1"/>
<rect x="310" y="130" width="1" height="1"/>
<rect x="314" y="130" width="1" height="1"/>
<rect x="318" y="130" width="1" height="1"/>
<rect x="38" y="108" width="1" height="1"/>
<rect x="42" y="108" width="1" height="1"/>
<rect x="46" y="108" width="1" height="1"/>
<rect x="50" y="108" width="1" height="1"/>
<rect x="54" y="108" width="1" height="1"/>
<rect x="58" y="108" width="1" height="1"/>
<rect x="62" y="108" width="1" height="1"/>
<rect x="66" y="108" width="1" height="1"/>
<rect x="70" y="108" width="1" height="1"/>
<rect x="74" y="108" width="1" height="1"/>
<rect x="78" y="108" width="1" height="1"/>
<rect x="82" y="108" width="1" height="1"/>
<rect x="86" y="108" width="1" height="1"/>
<rect x="90" y="108" width="1" height="1"/>
<rect x="94" y="108" width="1" height="1"/>
<rect x="98" y="108" width="1" height="1"/>
<rect x="102" y="108" width="1" height="1"/>
<rect x="106" y="108" width="1" height="1"/>
<rect x="110" y="108" width="1" height="1"/>
<rect x="114" y="108" width="1" height="1"/>
<rect x="118" y="108" width="1" height="1"/>
<rect x="122" y="108" width="1" height="1"/>
<rect x="126" y="108" width="1" height="1"/>
<rect x="130" y="108" width="1" height="1"/>
<rect x="134" y="108" width="1" height="1"/>
<rect x="138" y="108" width="1" height="1"/>
<rect x="142" y="108" width="1" height="1"/>
<rect x="146" y="108" width="1" height="1"/>
<rect x="150" y="108" width="1" height="1"/>
<rect x="154" y="108" width="1" height="1"/>
<rect x="158" y="108" width="1" height="1"/>
<rect x="162" y="108" width="1" height="1"/>
<rect x="166" y="108" width="1" height="1"/>
<rect x="170" y="108" width="1" height="1"/>
<rect x="174" y="108" width="1" height="1"/>
<rect x="178" y="108" width="1" height="1"/>
<rect x="182" y="108" width="1" height="1"/>
<rect x="186" y="108" width="1" height="1"/>
<rect x="190" y="108" width="1" height="1"/>
<rect x="194" y="108" width="1" height="1"/>
<rect x="198" y="108" width="1" height="1"/>
<rect x="202" y="108" width="1" height="1"/>
<rect x="206" y="108" width="1" height="1"/>
<rect x="210" y="108" width="1" height="1"/>
<rect x="214" y="108" width="1" height="1"/>
<rect x="218" y="108" width="1" height="1"/>
<rect x="222" y="108" width="1" height="1"/>
<rect x="226" y="108" width="1" height="1"/>
<rect x="230" y="108" width="1" height="1"/>
<rect x="234" y="108" width="1" height="1"/>
<rect x="238" y="108" width="1" height="1"/>
<rect x="242" y="108" width="1" height="1"/>
<rect x="246" y="108" width="1" height="1"/>
<rect x="250" y="108" width="1" height="1"/>
<rect x="254" y="108" width="1" height="1"/>
<rect x="258" y="108" width="1" height="1"/>
<rect x="262" y="108" width="1" height="1"/>
<rect x="266" y="108" width="1" height="1"/>
<rect x="270" y="108" width="1" height="1"/>
<rect x="274" y="108" width="1" height="1"/>
<rect x="278" y="108" width="1" height="1"/>
<rect x="282" y="108" width="1" height="1"/>
<rect x="286" y="108" width="1" height="1"/>
<rect x="290" y="108" width="1" height="1"/>
<rect x="294" y="108" width="1" height="1"/>
<rect x="298" y="108" width="1" height="1"/>
<rect x="302" y="108" width="1" height="1"/>
<rect x="306" y="108" width="1" height="1"/>
<rect x="310" y="108" width="1" height="1"/>
<rect x="314" y="108" width="1" height="1"/>
<rect x="318" y="108" width="1" height="1"/>
<rect x="38" y="86" width="1" height="1"/>
<rect x="42" y="86" width="1" height="1"/>
<rect x="46" y="86" width="1" height="1"/>
<rect x="50" y="86" width="1" height="1"/>
<rect x="54" y="86" width="1" height="1"/>
<rect x="58" y="86" width="1" height="1"/>
<rect x="62" y="86" width="1" height="1"/>
<rect x="66" y="86" width="1" height="1"/>
<rect x="70" y="86" width="1" height="1"/>
<rect x="74" y="86" width="1" height="1"/>
<rect x="78" y="86" width="1" height="1"/>
<rect x="82" y="86" width="1" height="1"/>
<rect x="86" y="86" width="1" height="1"/>
<rect x="90" y="86" width="1" height="1"/>
<rect x="94" y="86" width="1" height="1"/>
<rect x="98" y="86" width="1" height="1"/>
<rect x="102" y="86" width="1" height="1"/>
<rect x="106" y="86" width="1" height="1"/>
<rect x="110" y="86" width="1" height="1"/>
<rect x="114" y="86" width="1" height="1"/>
<rect x="118" y="86" width="1" height="1"/>
<rect x="122" y="86" width="1" height="1"/>
<rect x="126" y="86" width="1" height="1"/>
<rect x="130" y="86" width="1" height="1"/>
<rect x="134" y="86" width="1" height="1"/>
<rect x="138" y="86" width="1" height="1"/>
<rect x="142" y="86" width="1" height="1"/>
<rect x="146" y="86" width="1" height="1"/>
<rect x="150" y="86" width="1" height="1"/>
<rect x="154" y="86" width="1" height="1"/>
<rect x="158" y="86" width="1" height="1"/>
<rect x="162" y="86" width="1" height="1"/>
<rect x="166" y="86" width="1" height="1"/>
<rect x="170" y="86" width="1" height="1"/>
<rect x="174" y="86" width="1" height="1"/>
<rect x="178" y="86" width="1" height="1"/>
<rect x="182" y="86" width="1" height="1"/>
<rect x="186" y="86" width="1" height="1"/>
<rect x="190" y="86" width="1" height="1"/>
<rect x="194" y="86" width="1" height="1"/>
<rect x="198" y="86" width="1" height="1"/>
<rect x="202" y="86" width="1" height="1"/>
<rect x="206" y="86" width="1" height="1"/>
<rect x="210" y="86" width="1" height="1"/>
<rect x="214" y="86" width="1" height="1"/>
<rect x="218" y="86" width="1" height="1"/>
<rect x="222" y="86" width="1" height="1"/>
<rect x="226" y="86" width="1" height="1"/>
<rect x="230" y="86" width="1" height="1"/>
<rect x="234" y="86" width="1" height="1"/>
<rect x="238" y="86" width="1" height="1"/>
<rect x="242" y="86" width="1" height="1"/>
<rect x="246" y="86" width="1" height="1"/>
<rect x="250" y="86" width="1" height="1"/>
<rect x="254" y="86" width="1" height="1"/>
<rect x="258" y="86" width="1" height="1"/>
<rect x="262" y="86" width="1" height="1"/>
<rect x="266" y="86" width="1" height="1"/>
<rect x="270" y="86" width="1" height="1"/>
<rect x="274" y="86" width="1" height="1"/>
<rect x="278" y="86" width="1" height="1"/>
<rect x="282" y="86" width="1" height="1"/>
<rect x="286" y="86" width="1" height="1"/>
<rect x="290" y="86" width="1" height="1"/>
<rect x="294" y="86" width="1" height="1"/>
<rect x="298" y="86" width="1" height="1"/>
<rect x="302" y="86" width="1" height="1"/>
<rect x="306" y="86" width="1" height="1"/>
<rect x="310" y="86" width="1" height="1"/>
<rect x="314" y="86" width="1" height="1"/>
<rect x="318" y="86" width="1" height="1"/>
<rect x="38" y="64" width="1" height="1"/>
<rect x="42" y="64" width="1" height="1"/>
<rect x="46" y="64" width="1" height="1"/>
<rect x="50" y="64" width="1" height="1"/>
<rect x="54" y="64" width="1" height="1"/>
<rect x="58" y="64" width="1" height="1"/>
<rect x="62" y="64" width="1" height="1"/>
<rect x="66" y="64" width="1" height="1"/>
<rect x="70" y="64" width="1" height="1"/>
<rect x="74" y="64" width="1" height="1"/>
<rect x="78" y="64" width="1" height="1"/>
<rect x="82" y="64" width="1" height="1"/>
<rect x="86" y="64" width="1" height="1"/>
<rect x="90" y="64" width="1" height="1"/>
<rect x="94" y="64" width="1" height="1"/>
<rect x="98" y="64" width="1" height="1"/>
<rect x="102" y="64" width="1" height="1"/>
<rect x="106" y="64" width="1" height="1"/>
<rect x="110" y="64" width="1" height="1"/>
<rect x="114" y="64" width="1" height="1"/>
<rect x="118" y="64" width="1" height="1"/>
<rect x="122" y="64" width="1" height="1"/>
<rect x="126" y="64" width="1" height="1"/>
<rect x="130" y="64" width="1" height="1"/>
<rect x="134" y="64" width="1" height="1"/>
<rect x="138" y="64" width="1" height="1"/>
<rect x="142" y="64" width="1" height="1"/>
<rect x="146" y="64" width="1" height="1"/>
<rect x="150" y="64" width="1" height="1"/>
<rect x="154" y="64" width="1" height="1"/>
<rect x="158" y="64" width="1" height="1"/>
<rect x="162" y="64" width="1" height="1"/>
<rect x="166" y="64" width="1" height="1"/>
<rect x="170" y="64" width="1" height="1"/>
<rect x="174" y="64" width="1" height="1"/>
<rect x="178" y="64" width="1" height="1"/>
<rect x="182" y="64" width="1" height="1"/>
<rect x="186" y="64" width="1" height="1"/>
<rect x="190" y="64" width="1" height="1"/>
<rect x="194" y="64" width="1" height="1"/>
<rect x="198" y="64" width="1" height="1"/>
<rect x="202" y="64" width="1" height="1"/>
<rect x="206" y="64" width="1" height="1"/>
<rect x="210" y="64" width="1" height="1"/>
<rect x="214" y="64" width="1" height="1"/>
<rect x="218" y="64" width="1" height="1"/>
<rect x="222" y="64" width="1" height="1"/>
<rect x="226" y="64" width="1" height="1"/>
<rect x="230" y="64" width="1" height="1"/>
<rect x="234" y="64" width="1" height="1"/>
<rect x="238" y="64" width="1" height="1"/>
<rect x="242" y="64" width="1" height="1"/>
<rect x="246" y="64" width="1" height="1"/>
<rect x="250" y="64" width="1" height="1"/>
<rect x="254" y="64" width="1" height="1"/>
<rect x="258" y="64" width="1" height="1"/>
<rect x="262" y="64" width="1" height="1"/>
<rect x="266" y="64" width="1" height="1"/>
<rect x="270" y="64" width="1" height="1"/>
<rect x="274" y="64" width="1" height="1"/>
<rect x="278" y="64" width="1" height="1"/>
<rect x="282" y="64" width="1" height="1"/>
<rect x="286" y="64" width="1" height="1"/>
<rect x="290" y="64" width="1" height="1"/>
<rect x="294" y="64" width="1" height="1"/>
<rect x="298" y="64" width="1" height="1"/>
<rect x="302" y="64" width="1" height="1"/>
<rect x="306" y="64" width="1" height="1"/>
<rect x="310" y="64" width="1" height="1"/>
<rect x="314" y="64" width="1" height="1"/>
<rect x="318" y="64" width="1" height="1"/>
<rect x="38" y="42" width="1" height="1"/>
<rect x="42" y="42" width="1" height="1"/>
<rect x="46" y="42" width="1" height="1"/>
<rect x="50" y="42" width="1" height="1"/>
<rect x="54" y="42" width="1" height="1"/>
<rect x="58" y="42" width="1" height="1"/>
<rect x="62" y="42" width="1" height="1"/>
<rect x="66" y="42" width="1" height="1"/>
<rect x="70" y="42" width="1" height="1"/>
<rect x="74" y="42" width="1" height="1"/>
<rect x="78" y="42" width="1" height="1"/>
<rect x="82" y="42" width="1" height="1"/>
<rect x="86" y="42" width="1" height="1"/>
<rect x="90" y="42" width="1" height="1"/>
<rect x="94" y="42" width="1" height="1"/>
<rect x="98" y="42" width="1" height="1"/>
<rect x="102" y="42" width="1" height="1"/>
<rect x="106" y="42" width="1" height="1"/>
<rect x="110" y="42" width="1" height="1"/>
<rect x="114" y="42" width="1" height="1"/>
<rect x="118" y="42" width="1" height="1"/>
<rect x="122" y="42" width="1" height="1"/>
<rect x="126" y="42" width="1" height="1"/>
<rect x="130" y="42" width="1" height="1"/>
<rect x="134" y="42" width="1" height="1"/>
<rect x="138" y="42" width="1" height="1"/>
<rect x="142" y="42" width="1" height="1"/>
<rect x="146" y="42" width="1" height="1"/>
<rect x="150" y="42" width="1" height="1"/>
<rect x="154" y="42" width="1" height="1"/>
<rect x="158" y="42" width="1" height="1"/>
<rect x="162" y="42" width="1" height="1"/>
<rect x="166" y="42" width="1" height="1"/>
<rect x="170" y="42" width="1" height="1"/>
<rect x="174" y="42" width="1" height="1"/>
<rect x="178" y="42" width="1" height="1"/>
<rect x="182" y="42" width="1" height="1"/>
<rect x="186" y="42" width="1" height="1"/>
<rect x="190" y="42" width="1" height="1"/>
<rect x="194" y="42" width="1" height="1"/>
<rect x="198" y="42" width="1" height="1"/>
<rect x="202" y="42" width="1" height="1"/>
<rect x="206" y="42" width="1" height="1"/>
<rect x="210" y="42" width="1" height="1"/>
<rect x="214" y="42" width="1" height="1"/>
<rect x="218" y="42" width="1" height="1"/>
<rect x="222" y="42" width="1" height="1"/>
<rect x="226" y="42" width="1" height="1"/>
<rect x="230" y="42" width="1" height="1"/>
<rect x="234" y="42" width="1" height="1"/>
<rect x="238" y="42" width="1" height="1"/>
<rect x="242" y="42" width="1" height="1"/>
<rect x="246" y="42" width="1" height="1"/>
<rect x="250" y="42" width="1" height="1"/>
<rect x="254" y="42" width="1" height="1"/>
<rect x="258" y="42" width="1" height="1"/>
<rect x="262" y="42" width="1" height="1"/>
<rect x="266" y="42" width="1" height="1"/>
<rect x="270" y="42" width="1" height="1"/>
<rect x="274" y="42" width="1" height="1"/>
<rect x="278" y="42" width="1" height="1"/>
<rect x="282" y="42" width="1" height="1"/>
<rect x="286" y="42" width="1" height="1"/>
<rect x="290" y="42" width="1" height="1"/>
<rect x="294" y="42" width="1" height="1"/>
<rect x="298" y="42" width="1" height="1"/>
<rect x="302" y="42" width="1" height="1"/>
<rect x="306" y="42" width="1" height="1"/>
<rect x="310" y="42" width="1" height="1"/>
<rect x="314" y="42" width="1" height="1"/>
<rect x="318" y="42" width="1" height="1"/>
</g>
<path d="M36.20,20.50 L322.50,20.50 L322.50,241.60 L36.20,241.60 Z" fill="none" stroke="#000" stroke-width="1"/>
<g stroke="#000" stroke-opacity="0.8" stroke-width="1">
<line x1="64.61" y1="241.60" x2="64.61" y2="237.60"/>
<line x1="64.61" y1="20.50" x2="64.61" y2="23.70"/>
<line x1="35.95" y1="218.99" x2="39.15" y2="218.99"/>
<line x1="322.50" y1="218.99" x2="319.30" y2="218.99"/>
<line x1="92.76" y1="241.60" x2="92.76" y2="237.60"/>
<line x1="92.76" y1="20.50" x2="92.76" y2="23.70"/>
<line x1="35.95" y1="196.98" x2="39.15" y2="196.98"/>
<line x1="322.50" y1="196.98" x2="319.30" y2="196.98"/>
<line x1="121.92" y1="241.60" x2="121.92" y2="237.60"/>
<line x1="121.92" y1="20.50" x2="121.92" y2="23.70"/>
<line x1="35.95" y1="174.17" x2="39.15" y2="174.17"/>
<line x1="322.50" y1="174.17" x2="319.30" y2="174.17"/>
<line x1="150.17" y1="241.60" x2="150.17" y2="237.60"/>
<line x1="150.17" y1="20.50" x2="150.17" y2="23.70"/>
<line x1="35.95" y1="152.76" x2="39.15" y2="152.76"/>
<line x1="322.50" y1="152.76" x2="319.30" y2="152.76"/>
<line x1="179.23" y1="241.60" x2="179.23" y2="237.60"/>
<line x1="179.23" y1="20.50" x2="179.23" y2="23.70"/>
<line x1="35.95" y1="130.35" x2="39.15" y2="130.35"/>
<line x1="322.50" y1="130.35" x2="319.30" y2="130.35"/>
<line x1="207.88" y1="241.60" x2="207.88" y2="237.60"/>
<line x1="207.88" y1="20.50" x2="207.88" y2="23.70"/>
<line x1="35.95" y1="108.64" x2="39.15" y2="108.64"/>
<line x1="322.50" y1="108.64" x2="319.30" y2="108.64"/>
<line x1="236.54" y1="241.60" x2="236.54" y2="237.60"/>
<line x1="236.54" y1="20.50" x2="236.54" y2="23.70"/>
<line x1="35.95" y1="86.53" x2="39.15" y2="86.53"/>
<line x1="322.50" y1="86.53" x2="319.30" y2="86.53"/>
<line x1="265.19" y1="241.60" x2="265.19" y2="237.60"/>
<line x1="265.19" y1="20.50" x2="265.19" y2="23.70"/>
<line x1="35.95" y1="64.72" x2="39.15" y2="64.72"/>
<line x1="322.50" y1="64.72" x2="319.30" y2="64.72"/>
<line x1="293.85" y1="241.60" x2="293.85" y2="237.60"/>
<line x1="293.85" y1="20.50" x2="293.85" y2="23.70"/>
<line x1="35.95" y1="42.61" x2="39.15" y2="42.61"/>
<line x1="322.50" y1="42.61" x2="319.30" y2="42.61"/>
</g>
<g opacity="0.99">
<text transform="translate(36.25,252.20) scale(0.950,1)" font-size="9.30" text-anchor="middle">0</text>
<text transform="translate(64.91,252.20) scale(0.950,1)" font-size="9.30" text-anchor="middle">0.2</text>
<text transform="translate(93.06,252.20) scale(0.950,1)" font-size="9.30" text-anchor="middle">0.4</text>
<text transform="translate(122.22,252.20) scale(0.950,1)" font-size="9.30" text-anchor="middle">0.6</text>
<text transform="translate(150.47,252.20) scale(0.950,1)" font-size="9.30" text-anchor="middle">0.8</text>
<text transform="translate(179.53,252.20) scale(0.950,1)" font-size="9.30" text-anchor="middle">1</text>
<text transform="translate(208.18,252.20) scale(0.950,1)" font-size="9.30" text-anchor="middle">1.2</text>
<text transform="translate(236.84,252.20) scale(0.950,1)" font-size="9.30" text-anchor="middle">1.4</text>
<text transform="translate(265.49,252.20) scale(0.950,1)" font-size="9.30" text-anchor="middle">1.6</text>
<text transform="translate(294.15,252.20) scale(0.950,1)" font-size="9.30" text-anchor="middle">1.8</text>
<text transform="translate(322.80,252.20) scale(0.950,1)" font-size="9.30" text-anchor="middle">2</text>
<text transform="translate(34.00,245.00) scale(0.950,1)" font-size="9.30" text-anchor="end">0</text>
<text transform="translate(34.00,222.39) scale(0.950,1)" font-size="9.30" text-anchor="end">0.1</text>
<text transform="translate(34.00,200.38) scale(0.950,1)" font-size="9.30" text-anchor="end">0.2</text>
<text transform="translate(34.00,177.57) scale(0.950,1)" font-size="9.30" text-anchor="end">0.3</text>
<text transform="translate(34.00,156.16) scale(0.950,1)" font-size="9.30" text-anchor="end">0.4</text>
<text transform="translate(34.00,133.75) scale(0.950,1)" font-size="9.30" text-anchor="end">0.5</text>
<text transform="translate(34.00,112.04) scale(0.950,1)" font-size="9.30" text-anchor="end">0.6</text>
<text transform="translate(34.00,89.93) scale(0.950,1)" font-size="9.30" text-anchor="end">0.7</text>
<text transform="translate(34.00,68.12) scale(0.950,1)" font-size="9.30" text-anchor="end">0.8</text>
<text transform="translate(34.00,46.01) scale(0.950,1)" font-size="9.30" text-anchor="end">0.9</text>
<text transform="translate(34.00,23.90) scale(0.950,1)" font-size="9.30" text-anchor="end">1</text>
<text x="178.6" y="13.6" font-size="14" text-anchor="middle">SLC 2 reads</text>
<text x="179" y="267.2" font-size="14" text-anchor="middle">q</text>
<text transform="translate(15,131.9) rotate(-90)" font-size="14.1" text-anchor="middle">Mutual information</text>
</g>
<clipPath id="cp"><rect x="35.45" y="20.00" width="287.55" height="222.10"/></clipPath>
<path d="M35.95,51.00 L38.34,49.79 L40.73,48.67 L43.11,47.66 L45.50,46.74 L47.89,45.92 L50.28,45.20 L52.67,44.57 L55.05,44.05 L57.44,43.62 L59.83,43.28 L62.22,43.04 L64.61,42.90 L66.99,42.85 L69.38,42.90 L71.77,43.04 L74.16,43.28 L76.54,43.61 L78.93,44.03 L81.32,44.54 L83.71,45.15 L86.10,45.85 L88.48,46.64 L90.87,47.53 L93.26,48.50 L95.65,49.56 L98.04,50.72 L100.42,51.96 L102.81,53.29 L105.20,54.70 L107.59,56.19 L109.98,57.77 L112.36,59.42 L114.75,61.15 L117.14,62.96 L119.53,64.84 L121.92,66.80 L124.30,68.83 L126.69,70.92 L129.08,73.09 L131.47,75.32 L133.85,77.62 L136.24,79.98 L138.63,82.40 L141.02,84.89 L143.41,87.43 L145.79,90.03 L148.18,92.69 L150.57,95.40 L152.96,98.16 L155.35,100.98 L157.73,103.83 L160.12,106.73 L162.51,109.66 L164.90,112.62 L167.29,115.61 L169.67,118.63 L172.06,121.65 L174.45,124.70 L176.84,127.75 L179.23,130.80 L181.61,133.85 L184.00,136.90 L186.39,139.95 L188.78,142.98 L191.16,146.00 L193.55,148.99 L195.94,151.97 L198.33,154.92 L200.72,157.84 L203.10,160.73 L205.49,163.59 L207.88,166.40 L210.27,169.17 L212.66,171.89 L215.04,174.57 L217.43,177.19 L219.82,179.77 L222.21,182.28 L224.60,184.74 L226.98,187.14 L229.37,189.48 L231.76,191.75 L234.15,193.96 L236.54,196.10 L238.92,198.17 L241.31,200.17 L243.70,202.10 L246.09,203.97 L248.47,205.77 L250.86,207.51 L253.25,209.20 L255.64,210.82 L258.03,212.39 L260.41,213.91 L262.80,215.38 L265.19,216.80 L267.58,218.17 L269.97,219.50 L272.35,220.77 L274.74,222.00 L277.13,223.19 L279.52,224.32 L281.91,225.41 L284.29,226.44 L286.68,227.43 L289.07,228.37 L291.46,229.26 L293.85,230.10 L296.23,230.89 L298.62,231.63 L301.01,232.32 L303.40,232.96 L305.78,233.54 L308.17,234.08 L310.56,234.56 L312.95,235.00 L315.34,235.38 L317.72,235.70 L320.11,235.98 L322.50,236.20" fill="none" stroke="#0000ff" stroke-width="2" stroke-linejoin="round" clip-path="url(#cp)"/>
<rect x="33.15" y="48.20" width="5.60" height="5.60" fill="none" stroke="#0000ff" stroke-width="1.80"/>
<rect x="61.81" y="40.10" width="5.60" height="5.60" fill="none" stroke="#0000ff" stroke-width="1.80"/>
<rect x="90.46" y="45.70" width="5.60" height="5.60" fill="none" stroke="#0000ff" stroke-width="1.80"/>
<rect x="119.12" y="64.00" width="5.60" height="5.60" fill="none" stroke="#0000ff" stroke-width="1.80"/>
<rect x="147.77" y="92.60" width="5.60" height="5.60" fill="none" stroke="#0000ff" stroke-width="1.80"/>
<rect x="176.43" y="128.00" width="5.60" height="5.60" fill="none" stroke="#0000ff" stroke-width="1.80"/>
<rect x="205.08" y="163.60" width="5.60" height="5.60" fill="none" stroke="#0000ff" stroke-width="1.80"/>
<rect x="233.74" y="193.30" width="5.60" height="5.60" fill="none" stroke="#0000ff" stroke-width="1.80"/>
<rect x="262.39" y="214.00" width="5.60" height="5.60" fill="none" stroke="#0000ff" stroke-width="1.80"/>
<rect x="291.05" y="227.30" width="5.60" height="5.60" fill="none" stroke="#0000ff" stroke-width="1.80"/>
<path d="M35.95,36.50 L38.34,35.86 L40.73,35.25 L43.11,34.67 L45.50,34.12 L47.89,33.61 L50.28,33.14 L52.67,32.72 L55.05,32.36 L57.44,32.05 L59.83,31.80 L62.22,31.61 L64.61,31.50 L66.99,31.46 L69.38,31.50 L71.77,31.63 L74.16,31.84 L76.54,32.15 L78.93,32.56 L81.32,33.06 L83.71,33.68 L86.10,34.41 L88.48,35.25 L90.87,36.21 L93.26,37.30 L95.65,38.52 L98.04,39.86 L100.42,41.31 L102.81,42.88 L105.20,44.56 L107.59,46.33 L109.98,48.20 L112.36,50.15 L114.75,52.18 L117.14,54.29 L119.53,56.46 L121.92,58.70 L124.30,60.99 L126.69,63.35 L129.08,65.76 L131.47,68.23 L133.85,70.76 L136.24,73.36 L138.63,76.02 L141.02,78.76 L143.41,81.56 L145.79,84.43 L148.18,87.38 L150.57,90.40 L152.96,93.50 L155.35,96.66 L157.73,99.89 L160.12,103.18 L162.51,106.52 L164.90,109.91 L167.29,113.33 L169.67,116.78 L172.06,120.26 L174.45,123.77 L176.84,127.28 L179.23,130.80 L181.61,134.32 L184.00,137.84 L186.39,141.34 L188.78,144.83 L191.16,148.29 L193.55,151.72 L195.94,155.11 L198.33,158.46 L200.72,161.76 L203.10,165.01 L205.49,168.19 L207.88,171.30 L210.27,174.34 L212.66,177.30 L215.04,180.20 L217.43,183.02 L219.82,185.77 L222.21,188.45 L224.60,191.06 L226.98,193.60 L229.37,196.07 L231.76,198.48 L234.15,200.82 L236.54,203.10 L238.92,205.31 L241.31,207.46 L243.70,209.54 L246.09,211.54 L248.47,213.47 L250.86,215.31 L253.25,217.07 L255.64,218.75 L258.03,220.33 L260.41,221.82 L262.80,223.21 L265.19,224.50 L267.58,225.69 L269.97,226.78 L272.35,227.77 L274.74,228.68 L277.13,229.51 L279.52,230.27 L281.91,230.96 L284.29,231.59 L286.68,232.16 L289.07,232.68 L291.46,233.16 L293.85,233.60 L296.23,234.01 L298.62,234.39 L301.01,234.76 L303.40,235.11 L305.78,235.46 L308.17,235.80 L310.56,236.15 L312.95,236.52 L315.34,236.90 L317.72,237.30 L320.11,237.73 L322.50,238.20" fill="none" stroke="#00ff00" stroke-width="2" stroke-linejoin="round" clip-path="url(#cp)"/>
<path d="M35.95,33.35 L38.55,36.50 L35.95,39.65 L33.35,36.50 Z" fill="none" stroke="#00ff00" stroke-width="1.80"/>
<path d="M64.61,28.35 L67.20,31.50 L64.61,34.65 L62.01,31.50 Z" fill="none" stroke="#00ff00" stroke-width="1.80"/>
<path d="M93.26,34.15 L95.86,37.30 L93.26,40.45 L90.66,37.30 Z" fill="none" stroke="#00ff00" stroke-width="1.80"/>
<path d="M121.92,55.55 L124.52,58.70 L121.92,61.85 L119.32,58.70 Z" fill="none" stroke="#00ff00" stroke-width="1.80"/>
<path d="M150.57,87.25 L153.17,90.40 L150.57,93.55 L147.97,90.40 Z" fill="none" stroke="#00ff00" stroke-width="1.80"/>
<path d="M179.23,127.65 L181.83,130.80 L179.23,133.95 L176.63,130.80 Z" fill="none" stroke="#00ff00" stroke-width="1.80"/>
<path d="M207.88,168.15 L210.48,171.30 L207.88,174.45 L205.28,171.30 Z" fill="none" stroke="#00ff00" stroke-width="1.80"/>
<path d="M236.54,199.95 L239.14,203.10 L236.54,206.25 L233.94,203.10 Z" fill="none" stroke="#00ff00" stroke-width="1.80"/>
<path d="M265.19,221.35 L267.79,224.50 L265.19,227.65 L262.59,224.50 Z" fill="none" stroke="#00ff00" stroke-width="1.80"/>
<path d="M293.85,230.45 L296.45,233.60 L293.85,236.75 L291.25,233.60 Z" fill="none" stroke="#00ff00" stroke-width="1.80"/>
<path d="M35.95,22.60 L38.34,22.65 L40.73,22.67 L43.11,22.66 L45.50,22.63 L47.89,22.59 L50.28,22.53 L52.67,22.47 L55.05,22.41 L57.44,22.35 L59.83,22.31 L62.22,22.29 L64.61,22.30 L66.99,22.34 L69.38,22.41 L71.77,22.53 L74.16,22.69 L76.54,22.91 L78.93,23.20 L81.32,23.54 L83.71,23.97 L86.10,24.47 L88.48,25.05 L90.87,25.73 L93.26,26.50 L95.65,27.37 L98.04,28.35 L100.42,29.44 L102.81,30.63 L105.20,31.94 L107.59,33.35 L109.98,34.88 L112.36,36.53 L114.75,38.29 L117.14,40.17 L119.53,42.17 L121.92,44.30 L124.30,46.55 L126.69,48.93 L129.08,51.43 L131.47,54.06 L133.85,56.82 L136.24,59.70 L138.63,62.71 L141.02,65.85 L143.41,69.12 L145.79,72.52 L148.18,76.04 L150.57,79.70 L152.96,83.49 L155.35,87.39 L157.73,91.41 L160.12,95.52 L162.51,99.73 L164.90,104.01 L167.29,108.37 L169.67,112.78 L172.06,117.24 L174.45,121.73 L176.84,126.26 L179.23,130.80 L181.61,135.35 L184.00,139.89 L186.39,144.41 L188.78,148.91 L191.16,153.35 L193.55,157.74 L195.94,162.05 L198.33,166.29 L200.72,170.42 L203.10,174.44 L205.49,178.34 L207.88,182.10 L210.27,185.71 L212.66,189.18 L215.04,192.50 L217.43,195.68 L219.82,198.72 L222.21,201.62 L224.60,204.39 L226.98,207.02 L229.37,209.53 L231.76,211.91 L234.15,214.17 L236.54,216.30 L238.92,218.32 L241.31,220.22 L243.70,222.00 L246.09,223.68 L248.47,225.26 L250.86,226.73 L253.25,228.10 L255.64,229.38 L258.03,230.57 L260.41,231.66 L262.80,232.67 L265.19,233.60 L267.58,234.45 L269.97,235.22 L272.35,235.93 L274.74,236.56 L277.13,237.14 L279.52,237.65 L281.91,238.11 L284.29,238.51 L286.68,238.87 L289.07,239.19 L291.46,239.46 L293.85,239.70 L296.23,239.91 L298.62,240.09 L301.01,240.24 L303.40,240.38 L305.78,240.50 L308.17,240.60 L310.56,240.70 L312.95,240.79 L315.34,240.89 L317.72,240.98 L320.11,241.09 L322.50,241.20" fill="none" stroke="#ff0000" stroke-width="2" stroke-linejoin="round" clip-path="url(#cp)"/>
<path d="M35.95,19.10 L39.50,24.70 L32.40,24.70 Z" fill="#ff0000" fill-opacity="0.6" stroke="#ff0000" stroke-width="1.80"/>
<path d="M64.61,18.80 L68.16,24.40 L61.06,24.40 Z" fill="#ff0000" fill-opacity="0.6" stroke="#ff0000" stroke-width="1.80"/>
<path d="M93.26,23.00 L96.81,28.60 L89.71,28.60 Z" fill="#ff0000" fill-opacity="0.6" stroke="#ff0000" stroke-width="1.80"/>
<path d="M121.92,40.80 L125.47,46.40 L118.37,46.40 Z" fill="#ff0000" fill-opacity="0.6" stroke="#ff0000" stroke-width="1.80"/>
<path d="M150.57,76.20 L154.12,81.80 L147.02,81.80 Z" fill="#ff0000" fill-opacity="0.6" stroke="#ff0000" stroke-width="1.80"/>
<path d="M179.23,127.30 L182.78,132.90 L175.68,132.90 Z" fill="#ff0000" fill-opacity="0.6" stroke="#ff0000" stroke-width="1.80"/>
<path d="M207.88,178.60 L211.43,184.20 L204.33,184.20 Z" fill="#ff0000" fill-opacity="0.6" stroke="#ff0000" stroke-width="1.80"/>
<path d="M236.54,212.80 L240.09,218.40 L232.99,218.40 Z" fill="#ff0000" fill-opacity="0.6" stroke="#ff0000" stroke-width="1.80"/>
<path d="M265.19,230.10 L268.74,235.70 L261.64,235.70 Z" fill="#ff0000" fill-opacity="0.6" stroke="#ff0000" stroke-width="1.80"/>
<path d="M293.85,236.20 L297.40,241.80 L290.30,241.80 Z" fill="#ff0000" fill-opacity="0.6" stroke="#ff0000" stroke-width="1.80"/>
<rect x="224.50" y="25.50" width="93.90" height="37.00" fill="#fff" stroke="#000" stroke-width="1"/>
<line x1="229.0" y1="31.90" x2="256.2" y2="31.90" stroke="#0000ff" stroke-width="2"/>
<rect x="239.80" y="29.10" width="5.60" height="5.60" fill="none" stroke="#0000ff" stroke-width="1.80"/>
<g opacity="0.99"><text x="259.4" y="35.50" font-size="8.8">SNR=6.241dB</text></g>
<line x1="229.0" y1="43.70" x2="256.2" y2="43.70" stroke="#00ff00" stroke-width="2"/>
<path d="M242.60,40.55 L245.20,43.70 L242.60,46.85 L240.00,43.70 Z" fill="none" stroke="#00ff00" stroke-width="1.80"/>
<g opacity="0.99"><text x="259.4" y="47.30" font-size="8.8">SNR=7.468dB</text></g>
<line x1="229.0" y1="55.60" x2="256.2" y2="55.60" stroke="#ff0000" stroke-width="2"/>
<path d="M242.60,52.10 L246.15,57.70 L239.05,57.70 Z" fill="#ff0000" fill-opacity="0.6" stroke="#ff0000" stroke-width="1.80"/>
<g opacity="0.99"><text x="259.4" y="59.20" font-size="8.8">SNR=9.789dB</text></g>
</svg></body></html>
